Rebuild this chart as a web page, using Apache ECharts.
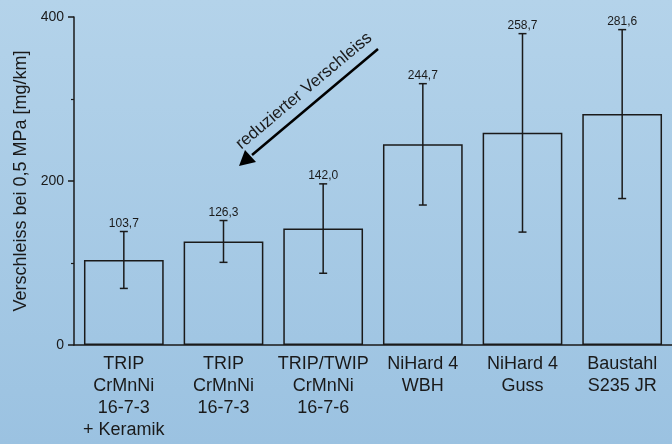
<!DOCTYPE html>
<html>
<head>
<meta charset="utf-8">
<script src="https://cdn.jsdelivr.net/npm/echarts@6/dist/echarts.min.js"></script>
<style>
  html, body { margin: 0; padding: 0; }
  #main { width: 672px; height: 444px; background: linear-gradient(#b4d3ea, #9bc2e1); }
</style>
</head>
<body>
<div id="main"></div>
<script>
// Werkstoffe (Kategorien)
var categories = [
    'TRIP\nCrMnNi\n16-7-3\n+ Keramik',
    'TRIP\nCrMnNi\n16-7-3',
    'TRIP/TWIP\nCrMnNi\n16-7-6',
    'NiHard 4\nWBH',
    'NiHard 4\nGuss',
    'Baustahl\nS235 JR'
];
// Verschleiss bei 0,5 MPa [mg/km]
var wear = [103.7, 126.3, 142.0, 244.7, 258.7, 281.6];
// Fehlerbalken (+/-)
var wearErr = [34.7, 25.5, 54.5, 74, 121, 103];
var yTicks = [0, 200, 400];

var font = '"Liberation Sans", Arial, sans-serif';
var ink = '#1a1a1a';

var errData = wear.map(function (v, i) { return [i, v - wearErr[i], v + wearErr[i], v]; });

var myChart = echarts.init(document.getElementById('main'));
var option = {
    backgroundColor: 'transparent',
    animation: false,
    textStyle: { fontFamily: font, color: ink },
    grid: { left: 74, right: -6, top: 17, bottom: 99, containLabel: false },
    xAxis: {
        type: 'category',
        data: categories,
        axisLine: { lineStyle: { color: ink, width: 1.5 } },
        axisTick: { alignWithLabel: true, length: 5, lineStyle: { color: ink, width: 1.5 } },
        axisLabel: { fontSize: 18, lineHeight: 22, color: ink, margin: 8, interval: 0 }
    },
    yAxis: {
        type: 'value',
        min: yTicks[0],
        max: yTicks[yTicks.length - 1],
        interval: 200,
        name: 'Verschleiss bei 0,5 MPa [mg/km]',
        nameLocation: 'middle',
        nameGap: 38,
        nameTextStyle: { fontSize: 18, color: ink },
        axisLine: { show: true, lineStyle: { color: ink, width: 1.5 } },
        axisTick: { show: true, length: 6, lineStyle: { color: ink, width: 1.5 } },
        minorTick: { show: true, splitNumber: 2, length: 3, lineStyle: { color: ink, width: 1.2 } },
        axisLabel: { fontSize: 14, color: ink, margin: 10 },
        splitLine: { show: false }
    },
    series: [
        {
            type: 'bar',
            data: wear,
            barWidth: '80%',
            itemStyle: { color: 'rgba(0,0,0,0)', borderColor: ink, borderWidth: 1.5 }
        },
        {
            type: 'custom',
            data: errData,
            z: 5,
            renderItem: function (params, api) {
                var x = api.value(0);
                var lo = api.coord([x, api.value(1)]);
                var hi = api.coord([x, api.value(2)]);
                var hw = 4;
                var st = { stroke: ink, lineWidth: 1.5 };
                return {
                    type: 'group',
                    children: [
                        { type: 'line', shape: { x1: hi[0], y1: hi[1], x2: lo[0], y2: lo[1] }, style: st },
                        { type: 'line', shape: { x1: hi[0] - hw, y1: hi[1], x2: hi[0] + hw, y2: hi[1] }, style: st },
                        { type: 'line', shape: { x1: lo[0] - hw, y1: lo[1], x2: lo[0] + hw, y2: lo[1] }, style: st },
                        {
                            type: 'text',
                            style: {
                                x: hi[0], y: hi[1] - 2,
                                text: api.value(3).toFixed(1).replace('.', ','),
                                align: 'center', verticalAlign: 'bottom',
                                fontSize: 12, fontFamily: font, fill: ink
                            }
                        }
                    ]
                };
            }
        }
    ],
    graphic: [
        { type: 'line', shape: { x1: 378, y1: 49, x2: 252, y2: 155 }, style: { stroke: '#000', lineWidth: 2.5 } },
        { type: 'polygon', shape: { points: [[239, 166], [245, 150], [256, 162]] }, style: { fill: '#000' } },
        {
            type: 'text', x: 304, y: 91, rotation: 40 * Math.PI / 180,
            style: { text: 'reduzierter Verschleiss', align: 'center', verticalAlign: 'middle', fontSize: 17, fontFamily: font, fill: ink }
        }
    ]
};
myChart.setOption(option);
</script>
</body>
</html>
